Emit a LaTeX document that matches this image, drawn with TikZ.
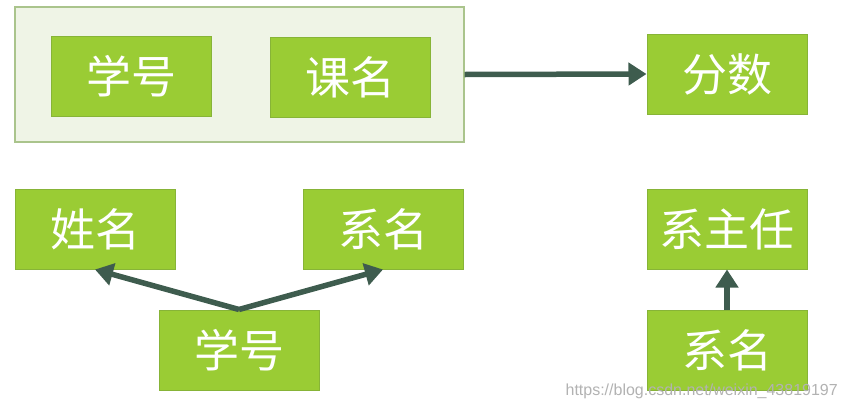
\documentclass[tikz,border=0pt]{standalone}
\usepackage{fontspec}
\setmainfont{Liberation Sans}
\newfontfamily\cjk{Noto Sans CJK SC}
\definecolor{leafgreen}{RGB}{154, 204, 52}
\definecolor{leafedge}{RGB}{135, 180, 55}
\definecolor{palegreen}{RGB}{239, 244, 230}
\definecolor{paleedge}{RGB}{170, 196, 140}
\definecolor{arrowgray}{RGB}{62, 92, 78}
\usetikzlibrary{arrows.meta,positioning}

\begin{document}
\begin{tikzpicture}[x=1pt,y=-1pt,
      attr/.style={rectangle,draw=leafedge,fill=leafgreen,text=white,line width=1pt,minimum width=160pt,minimum height=80pt,inner sep=0pt,font=\cjk\fontsize{45}{48}\selectfont},
      group/.style={rectangle,draw=paleedge,fill=palegreen,line width=1.2pt,minimum width=449pt,minimum height=135pt,inner sep=0pt},
      dep/.style={draw=arrowgray,line width=5.5pt,-{Triangle[length=18pt,width=22pt]}}
    ]
    \useasboundingbox (0,0) rectangle (847,410);

    \node[group] (key) at (239.5,74.5) {};
    \node[attr] (sno) at (131,76) {学号};
    \node[attr] (cname) at (350,77) {课名};
    \node[attr] (grade) at (727,74) {分数};

    \node[attr] (sname) at (95,229) {姓名};
    \node[attr] (dept) at (383,229) {系名};
    \node[attr] (sno2) at (239,350) {学号};

    \node[attr] (head) at (727,229) {系主任};
    \node[attr] (dept2) at (727,350) {系名};

    \draw[dep] (key.east) -- (grade.west);
    \draw[dep] (sno2.north) -- (sname.south);
    \draw[dep] (sno2.north) -- (dept.south);
    \draw[dep] (dept2.north) -- (head.south);

    \node[anchor=east,text=black!30,font=\fontsize{16}{18}\selectfont,inner sep=0pt] (mark) at (838,391) {https://blog.csdn.net/weixin\_43819197};
  \end{tikzpicture}
\end{document}
